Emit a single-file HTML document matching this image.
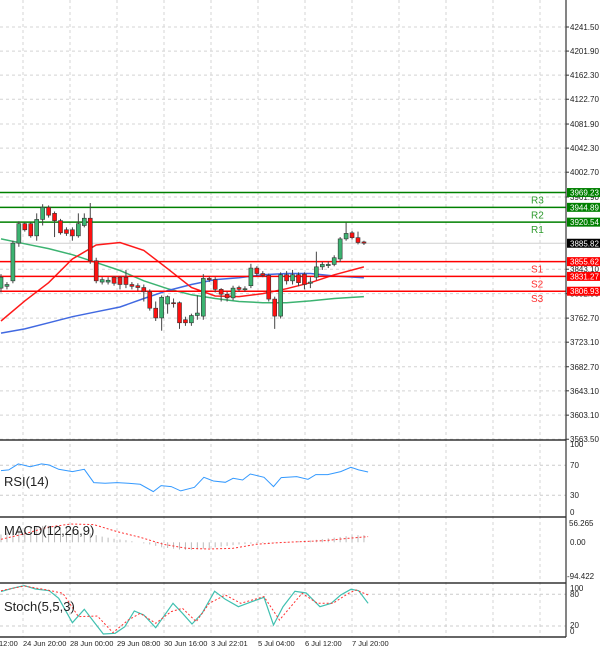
<!DOCTYPE html>
<html><head><meta charset="utf-8"><style>
html,body{margin:0;padding:0;background:#fff;}
svg{display:block;font-family:"Liberation Sans",sans-serif;}
</style></head><body>
<svg id="chart" width="600" height="653" viewBox="0 0 600 653" xmlns="http://www.w3.org/2000/svg"></svg>
<script>
const opens =[3812,3815,3824,3886,3918,3918,3898,3925,3945,3935,3923,3908,3908,3898,3915,3927,3857,3822,3822,3830,3830,3830,3818,3816,3813,3806,3779,3763,3786,3788,3788,3760,3755,3767,3766,3828,3826,3810,3802,3796,3813,3810,3816,3845,3836,3833,3794,3766,3834,3824,3834,3835,3820,3830,3847,3849,3851,3860,3893,3903,3895,3888];
const closes=[3830,3818,3886,3918,3908,3898,3925,3945,3932,3923,3903,3902,3898,3918,3927,3857,3824,3826,3825,3820,3818,3818,3815,3813,3806,3779,3763,3797,3798,3787,3755,3755,3767,3771,3828,3826,3810,3802,3796,3812,3810,3811,3845,3836,3833,3794,3766,3834,3824,3834,3821,3818,3822,3847,3851,3851,3862,3893,3902,3895,3887,3886];
const highs =[3835,3822,3890,3922,3920,3920,3935,3950,3948,3938,3926,3912,3912,3935,3935,3952,3862,3830,3830,3832,3832,3842,3822,3820,3818,3810,3790,3800,3800,3795,3790,3765,3770,3800,3835,3831,3830,3812,3806,3816,3816,3815,3852,3848,3840,3836,3798,3838,3840,3842,3838,3838,3830,3872,3855,3856,3866,3896,3920,3906,3905,3890];
const lows  =[3805,3810,3820,3880,3905,3895,3890,3915,3928,3896,3900,3898,3890,3895,3912,3852,3820,3818,3818,3816,3810,3812,3810,3808,3790,3775,3758,3742,3770,3780,3745,3750,3750,3760,3760,3822,3805,3790,3790,3792,3806,3806,3812,3832,3830,3790,3745,3762,3818,3818,3815,3810,3812,3825,3842,3845,3848,3855,3890,3892,3884,3883];
const maIdx=[0,4,8,12,16,20,24,28,32,36,40,44,48,52,56,61];
const maRed=[3758,3791,3821,3860,3883,3887,3874,3844,3813,3799,3798,3803,3811,3821,3834,3847];
const maBlue=[3738,3745,3755,3765,3773,3781,3795,3808,3818,3826,3829,3834,3836,3836,3832,3829];
const maGreen=[3893,3885,3877,3867,3854,3841,3824,3811,3801,3795,3790,3788,3788,3791,3795,3798];
const levelNames=["R3","R2","R1","S1","S2","S3"];
const levelValues=[3969.23,3944.89,3920.54,3855.62,3831.27,3806.93];
const priceTicks=["4241.50","4201.90","4162.30","4122.70","4081.90","4042.30","4002.70","3961.90","3843.10","3802.90","3762.70","3723.10","3682.70","3643.10","3603.10","3563.50"];
const lastPrice=3885.82;
const rsiIdx=[0,1.3,2.9,4.9,6.8,8.1,9.7,12,14,15.6,17.5,19.5,21.4,23.4,25.6,26.9,28.6,30.2,32.5,34.1,35.7,37.7,39,40.6,41.9,44.2,45.8,47.1,49.7,51.6,52.9,54.9,57.1,58.8,60.1,61.7];
const rsiVals=[62.9,63.8,71.8,68.2,71.8,70.4,64.7,61.6,64.7,46.9,46,46.9,46,44.7,34.9,42.9,41.6,35.8,40.7,54,49.1,47.3,52.7,50.4,58.4,54,41.6,53.6,54.9,51.3,57.6,57.6,61.6,67.3,63.8,61.1];
const macdHist=[22,27,32,36,40,43,45,46,46,44,42,40,37,33,29,25,20,16,13,10,8,6,3,0,-3,-6,-10,-14,-16,-18,-20,-21,-21,-20,-18,-16,-14,-12,-10,-8,-6,-5,-4,-3,-2,-2,-1,0,1,2,3,4,5,7,9,11,13,15,17,19,20,20];
const sigIdx=[0,3.9,7.8,11.7,15.6,19.5,23.4,27.3,31.2,35,39,42.9,46.8,50.6,54.5,58.4,61.7];
const sigVals=[8.4,23.4,42,51.4,49.5,29.9,14,-5.6,-16.8,-18.7,-16.8,-5.6,-0.9,1.9,4.7,11.2,15.9];
const stIdx=[0,1.9,3.9,5.8,8.1,9.7,12,14,15.6,17.2,19.2,20.8,22.4,24,26,28.9,30.5,32.1,33.8,35.9,37.7,39.9,42.2,44.2,45.8,47.4,49.4,51.3,53.6,55.5,57.1,58.8,60.1,61.7];
const stMain=[85.1,91.4,96.4,90.1,86.9,72.4,26.3,51.6,28.2,4.8,6.1,18.7,48.4,40.8,16.8,62.9,44,23.8,44,85.7,70.5,56.6,66.1,74.3,21.9,56.6,85.7,82.5,56.6,62.9,78.7,89.5,86.9,62.9];
const sgIdx=[0,3.9,7.8,10.4,13,16.2,18.8,21.4,23.4,26,28.6,30.5,32.8,35,37.7,40.3,44.2,46.8,50.6,53.2,55.8,58.4,59.7,61.7];
const sgVals=[86.9,95.8,88.2,81.9,37.7,38.9,7.4,31.4,44,25,47.2,53.5,28.2,62.9,78.7,62.9,75.6,31.4,81.9,62.9,62.9,81.9,88.2,78.7];
const timeLabels=["12:00","24 Jun 20:00","28 Jun 00:00","29 Jun 08:00","30 Jun 16:00","3 Jul 22:01","5 Jul 04:00","6 Jul 12:00","7 Jul 20:00"];

const svg=document.getElementById('chart');
const NS="http://www.w3.org/2000/svg";
function mk(tag,attrs,parent){const e=document.createElementNS(NS,tag);for(const k in attrs)e.setAttribute(k,attrs[k]);(parent||svg).appendChild(e);return e;}
const AX=566;
const xOf=i=>1+i*5.95;
const yP=p=>27+(4241.5-p)*0.608;
const yR=v=>465.3+(70-v)*0.75;
const yM=v=>542.3-v*0.357;
const yS=v=>594.3+(80-v)*0.528;

for(let k=0;k<12;k++){const x=23+47*k; if(x>=AX)break;
 const g=mk('line',{x1:x,y1:0,x2:x,y2:637,stroke:'#d4d4d4','stroke-dasharray':'3,3'});
 }
const gp=mk('g',{});
priceTicks.forEach(t=>{const y=yP(parseFloat(t));
 mk('line',{x1:0,y1:y,x2:AX,y2:y,stroke:'#d4d4d4','stroke-dasharray':'3,3'});
 mk('line',{x1:AX,y1:y,x2:AX+3,y2:y,stroke:'#333'},gp);
 const tx=mk('text',{x:570,y:y+3,'font-size':'8',fill:'#222'},gp);tx.textContent=t;
 });
[70,30].forEach(v=>mk('line',{x1:0,y1:yR(v),x2:AX,y2:yR(v),stroke:'#ccc','stroke-dasharray':'3,3'}));
[80,20].forEach(v=>mk('line',{x1:0,y1:yS(v),x2:AX,y2:yS(v),stroke:'#ccc','stroke-dasharray':'3,3'}));
mk('line',{x1:0,y1:yP(lastPrice),x2:AX,y2:yP(lastPrice),stroke:'#d0d0d0'});
function poly(idx,vals,yf,color,name,extra){let d='';idx.forEach((i,k)=>{d+=(k?'L':'M')+xOf(i).toFixed(1)+','+yf(vals[k]).toFixed(1);});
 const p=mk('path',Object.assign({d:d,fill:'none',stroke:color,'stroke-width':1.5},extra||{}));return p;}
poly(maIdx,maGreen,yP,'#3cb371','ma-green');
poly(maIdx,maBlue,yP,'#4169e1','ma-blue');
poly(maIdx,maRed,yP,'#ff1a1a','ma-red');
levelValues.forEach((v,k)=>{const y=yP(v);const isR=levelNames[k][0]==='R';const c=isR?'#008000':'#ff0000';
 const l=mk('line',{x1:0,y1:y,x2:AX,y2:y,stroke:c,'stroke-width':1.5});
 
 const t=mk('text',{x:531,y:y+11,'font-size':'10',fill:isR?'#2e9b2e':'#ff3030'});t.textContent=levelNames[k];
 
 const b=mk('rect',{x:AX+1,y:y-4.5,width:33,height:9,fill:c});
 const bt=mk('text',{x:AX+4,y:y+3,'font-size':'8',fill:'#fff'});bt.textContent=v.toFixed(2);
 });
{const y=yP(lastPrice);const b=mk('rect',{x:AX+1,y:y-4.5,width:33,height:9,fill:'#000'});
 const t=mk('text',{x:AX+4,y:y+3,'font-size':'8',fill:'#fff'});t.textContent=lastPrice.toFixed(2);}
opens.forEach((o,i)=>{const c=closes[i];const x=xOf(i);const up=c>=o;
 const g=mk('g',{});
 mk('line',{x1:x,y1:yP(highs[i]),x2:x,y2:yP(lows[i]),stroke:'#444'},g);
 const t=yP(Math.max(o,c)),b=yP(Math.min(o,c));
 mk('rect',{x:x-2,y:t,width:4,height:Math.max(1,b-t),fill:up?'#3cb371':'#ff1010',stroke:'#333','stroke-width':0.6},g);});
poly(rsiIdx,rsiVals,yR,'#3399ff','rsi-line',{'stroke-width':1});
macdHist.forEach((v,i)=>{const b=mk('line',{x1:xOf(i),y1:yM(0),x2:xOf(i),y2:yM(v),stroke:'#bbb'});
 });
poly(sigIdx,sigVals,yM,'#ff3333','macd-signal',{'stroke-width':1,'stroke-dasharray':'2,2'});
poly(stIdx,stMain,yS,'#40c0b0','stoch-main',{'stroke-width':1.2});
poly(sgIdx,sgVals,yS,'#ff3333','stoch-signal',{'stroke-width':1,'stroke-dasharray':'2,2'});
[[440,1.5],[517,1.5],[583,1.5],[637,1.5]].forEach(([y,w])=>{const l=mk('line',{x1:0,y1:y,x2:AX,y2:y,stroke:'#333','stroke-width':w});});
mk('line',{x1:AX,y1:0,x2:AX,y2:637,stroke:'#333','stroke-width':1.2});
function lab(txt,x,y,size,name){const t=mk('text',{x:x,y:y,'font-size':size,fill:'#222'});t.textContent=txt;}
[["100",447],["70",468],["30",498],["0",515]].forEach(a=>lab(a[0],570,a[1],'8','rsi-tick'));
lab("56.265",569,526,'8','macd-tick');lab("0.00",570,545,'8','macd-tick');lab("-94.422",567,579,'8','macd-tick');
[["100",591],["80",597],["20",628],["0",634]].forEach(a=>lab(a[0],570,a[1],'8','stoch-tick'));
lab("RSI(14)",4,486,'13','rsi-title');lab("MACD(12,26,9)",4,535,'13','macd-title');lab("Stoch(5,5,3)",4,611,'13','stoch-title');
timeLabels.forEach((t,k)=>{const x=k===0?-1:23+47*(k-1);lab(t,x,646,'7.5','time-label');});
</script>
</body></html>
